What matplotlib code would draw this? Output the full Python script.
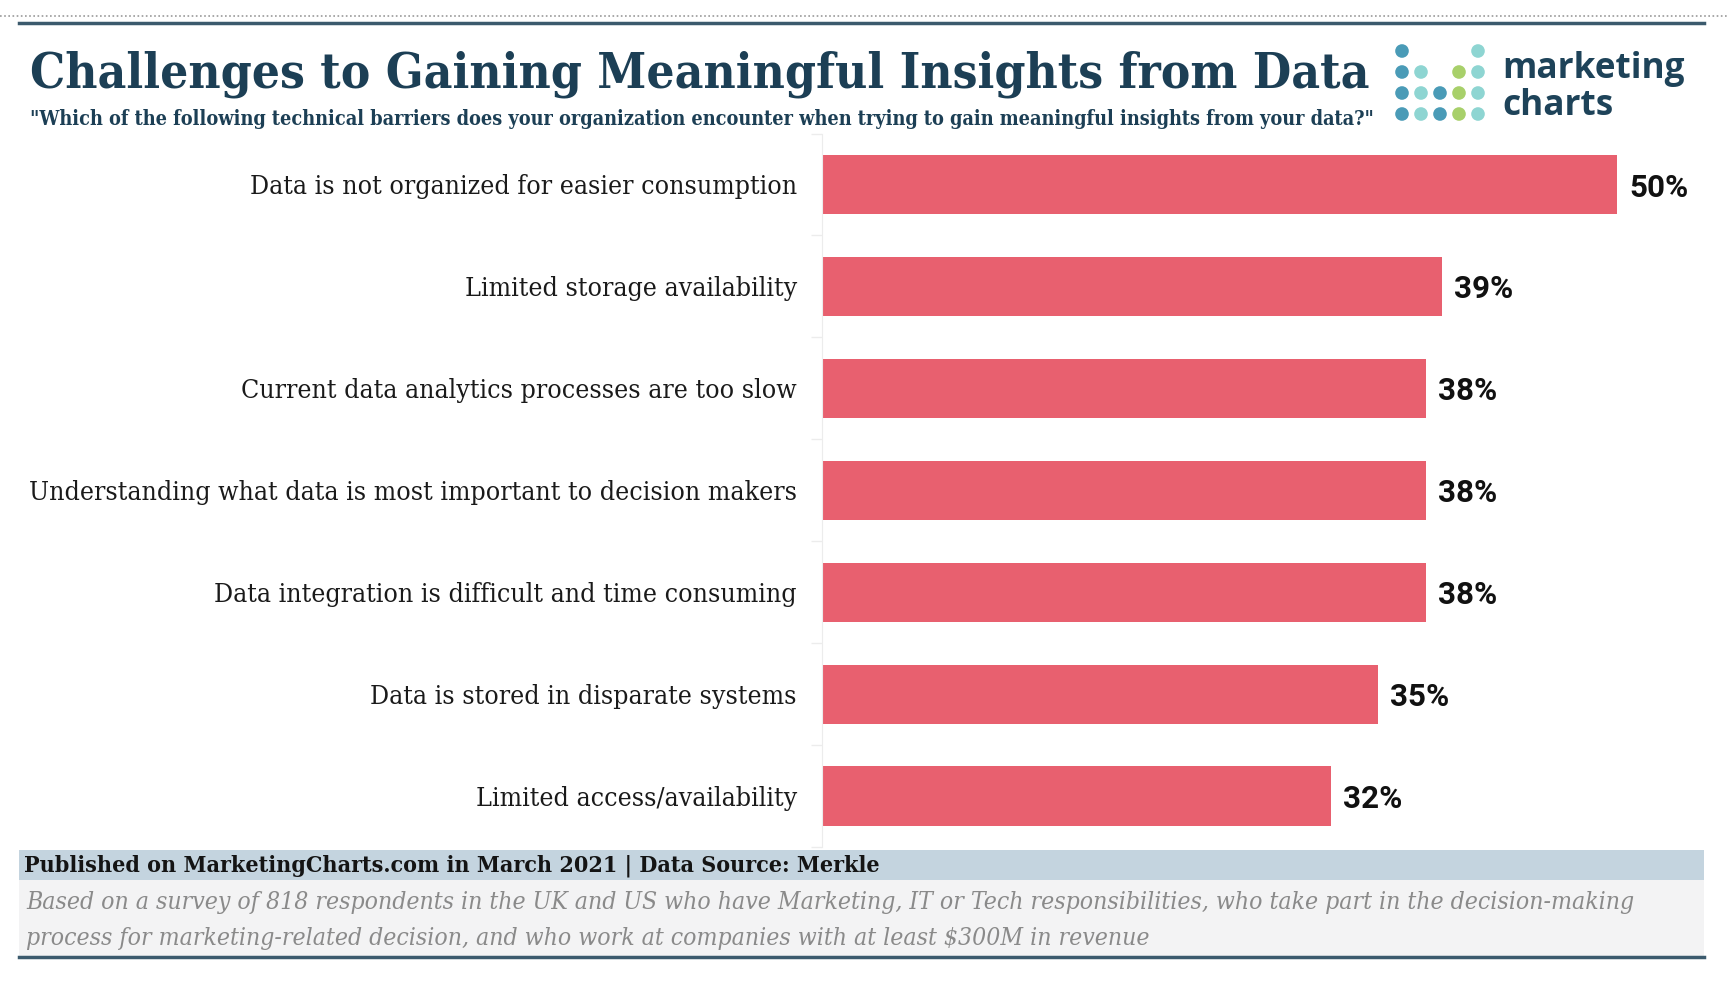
import matplotlib
matplotlib.use("Agg")
import matplotlib.pyplot as plt
from matplotlib.patches import Rectangle, Circle
from matplotlib.lines import Line2D
import numpy as np

categories = [
    "Data is not organized for easier consumption",
    "Limited storage availability",
    "Current data analytics processes are too slow",
    "Understanding what data is most important to decision makers",
    "Data integration is difficult and time consuming",
    "Data is stored in disparate systems",
    "Limited access/availability",
]
values = [50, 39, 38, 38, 38, 35, 32]
value_labels = ["50%", "39%", "38%", "38%", "38%", "35%", "32%"]

title = "Challenges to Gaining Meaningful Insights from Data"
subtitle = ('"Which of the following technical barriers does your organization encounter '
            'when trying to gain meaningful insights from your data?"')
source = "Published on MarketingCharts.com in March 2021 | Data Source: Merkle"
note1 = ("Based on a survey of 818 respondents in the UK and US who have Marketing, IT or Tech "
         "responsibilities, who take part in the decision-making")
note2 = "process for marketing-related decision, and who work at companies with at least $300M in revenue"

W, H = 1728, 986
fig = plt.figure(figsize=(W / 100, H / 100), dpi=100)
fig.patch.set_facecolor("white")


def fx(x):
    return x / W


def fy(y):
    return 1 - y / H


NAVY = "#1c3f55"
BAR = "#e8606f"

# top dotted + dark rule
fig.add_artist(Line2D([0, 1], [fy(16), fy(16)], transform=fig.transFigure,
                      color="#9a9a9a", lw=1.2, ls=(0, (1, 1.5))))
fig.add_artist(Line2D([fx(19), fx(1704)], [fy(22.5), fy(22.5)], transform=fig.transFigure,
                      color="#3b5a6d", lw=2.5))

serif = ["DejaVu Serif"]
fig.text(fx(30), fy(74), title, fontsize=35.5, fontweight="bold", color=NAVY,
         family=serif, fontstretch="condensed", va="center", ha="left")
fig.text(fx(30), fy(119), subtitle, fontsize=14.2, fontweight="bold", color=NAVY,
         family=serif, fontstretch="condensed", va="center", ha="left")

# logo dots
dark_t, light_t, green = "#4a9bb7", "#8ed5d2", "#a8d06a"
cols_x = [1402, 1421, 1440, 1459, 1478]
rows_y = [51, 72, 93, 114]
pattern = [
    [dark_t, None, None, None, light_t],
    [dark_t, light_t, None, green, light_t],
    [dark_t, light_t, dark_t, green, light_t],
    [dark_t, light_t, dark_t, green, light_t],
]
for r, row in enumerate(pattern):
    for c, col in enumerate(row):
        if col is None:
            continue
        fig.add_artist(Circle((cols_x[c], H - rows_y[r]), 6.8, transform=None,
                              facecolor=col, edgecolor="none"))
fig.text(fx(1502), fy(69), "marketing", fontsize=25.3, fontweight="bold", color="#1e4359",
         family=["Open Sans"], va="center", ha="left")
fig.text(fx(1502), fy(106), "charts", fontsize=25.3, fontweight="bold", color="#1e4359",
         family=["Open Sans"], va="center", ha="left")

# main axes
ax_left, ax_right = 822, 822 + 55 * 15.9
ax_top, ax_bot = 133.5, 847
ax = fig.add_axes([fx(ax_left), fy(ax_bot), (ax_right - ax_left) / W, (ax_bot - ax_top) / H])
y = np.arange(len(categories))
ax.barh(y, values, height=0.58, color=BAR, edgecolor="none")
ax.set_xlim(0, 55)
ax.set_ylim(len(categories) - 0.5, -0.5)
ax.set_yticks(y)
ax.set_yticklabels(categories, fontsize=19.05, family=serif, fontstretch="condensed",
                   color="#1a1a1a")
ax.tick_params(axis="y", which="major", length=0, pad=18)
ax.set_yticks(np.arange(len(categories) + 1) - 0.5, minor=True)
ax.tick_params(axis="y", which="minor", length=8, color="#ececec", width=1)
ax.set_xticks([])
for s in ["top", "right", "bottom"]:
    ax.spines[s].set_visible(False)
ax.spines["left"].set_color("#ececec")
for yi, v, lab in zip(y, values, value_labels):
    ax.text(v + 0.75, yi + 0.03, lab, fontsize=22.6, fontweight="bold", color="#111111",
            family=["Roboto"], va="center", ha="left")

# footer
fig.add_artist(Rectangle((fx(19), fy(880)), fx(1704) - fx(19), fy(850) - fy(880),
                         transform=fig.transFigure, facecolor="#c4d4df", edgecolor="none"))
fig.add_artist(Rectangle((fx(19), fy(956)), fx(1704) - fx(19), fy(880) - fy(956),
                         transform=fig.transFigure, facecolor="#f3f3f4", edgecolor="none"))
fig.add_artist(Line2D([fx(19), fx(1704)], [fy(957), fy(957)], transform=fig.transFigure,
                      color="#3b5a6d", lw=2.5))
fig.text(fx(24), fy(866), source, fontsize=16.7, fontweight="bold", color="#141414",
         family=serif, fontstretch="condensed", va="center", ha="left")
fig.text(fx(26), fy(902), note1, fontsize=17.7, style="italic", color="#8a8a8a",
         family=serif, fontstretch="condensed", va="center", ha="left")
fig.text(fx(26), fy(938), note2, fontsize=17.7, style="italic", color="#8a8a8a",
         family=serif, fontstretch="condensed", va="center", ha="left")

fig.savefig("out.png", dpi=100, facecolor="white")
